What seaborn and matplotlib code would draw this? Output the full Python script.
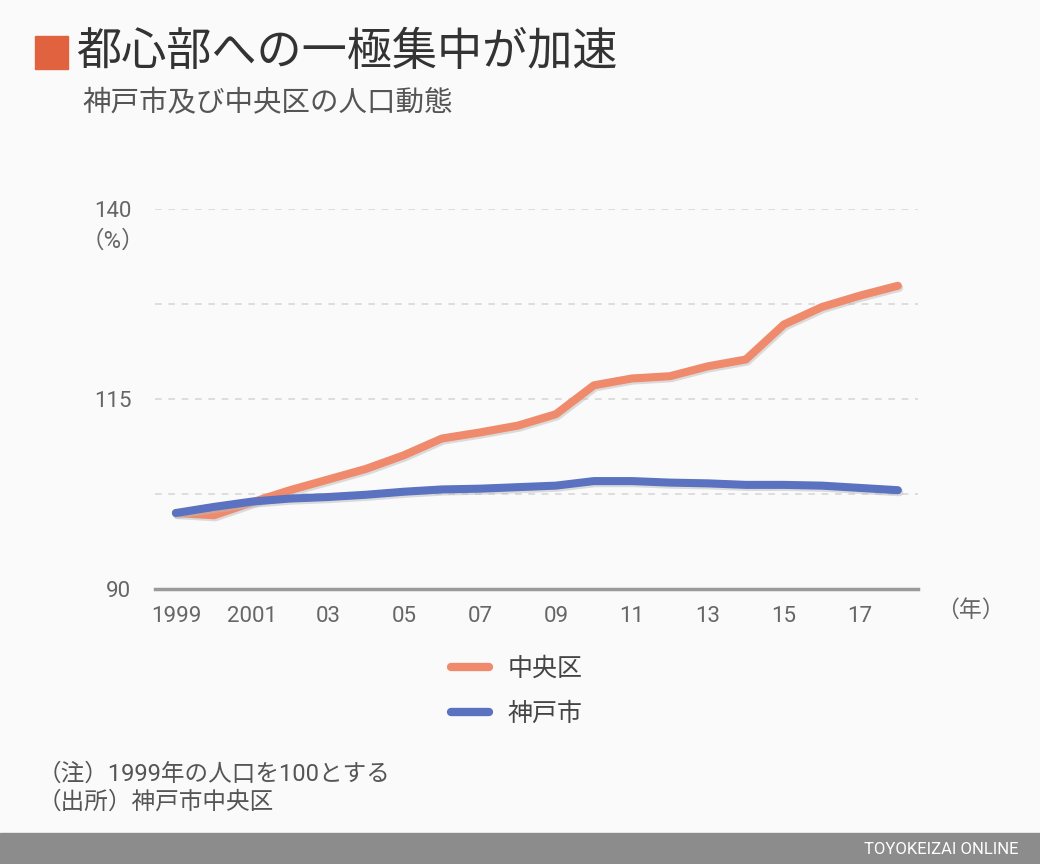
import pandas as pd
import numpy as np
import matplotlib.pyplot as plt
import matplotlib.patheffects as pe
from matplotlib.patches import Rectangle
import seaborn as sns

years = list(range(1999, 2019))
chuo = [100.0, 99.7, 101.4, 103.0, 104.4, 105.8, 107.6, 109.8, 110.6, 111.5,
        113.0, 116.8, 117.7, 118.0, 119.3, 120.2, 124.8, 127.1, 128.6, 129.9]
kobe = [100.0, 100.8, 101.5, 101.9, 102.1, 102.4, 102.8, 103.1, 103.2, 103.4,
        103.6, 104.2, 104.2, 104.0, 103.9, 103.7, 103.7, 103.6, 103.3, 103.0]
series_names = ["中央区", "神戸市"]
tick_years = list(range(1999, 2019, 2))
tick_labels = ["1999", "2001", "03", "05", "07", "09", "11", "13", "15", "17"]

df = pd.DataFrame({
    "year": years * 2,
    "value": chuo + kobe,
    "area": [series_names[0]] * len(years) + [series_names[1]] * len(years),
})

sns.set_style("white")
plt.rcParams['font.family'] = ['Roboto', 'Noto Sans CJK JP', 'DejaVu Sans']

bg = "#fafafa"
fig = plt.figure(figsize=(10.4, 8.64), dpi=100, facecolor=bg)
ax = fig.add_axes([155 / 1040, 1 - 589 / 864, (918 - 155) / 1040, (589 - 209) / 864])
ax.set_facecolor(bg)

palette = {"中央区": "#ef8a6c", "神戸市": "#5a72bf"}
sns.lineplot(data=df, x="year", y="value", hue="area", palette=palette,
             linewidth=5.8, ax=ax, legend=False, zorder=3)
for line in ax.lines:
    line.set_solid_capstyle("round")
    line.set_solid_joinstyle("round")
    line.set_path_effects([pe.SimpleLineShadow(offset=(1, -1.5), shadow_color="#bbbbbb", alpha=0.5),
                           pe.Normal()])

ax.set_xlim(1998.45, 2018.53)
ax.set_ylim(90, 140)
ax.set_yticks([90, 102.5, 115, 127.5, 140])
ax.set_yticklabels(["90", "", "115", "", "140"])
ax.set_xticks(tick_years)
ax.set_xticklabels(tick_labels)
ax.yaxis.grid(True, linestyle=(0, (4, 4)), color="#d8d8d8", linewidth=1.2)
ax.set_axisbelow(True)
for s in ["top", "right", "left"]:
    ax.spines[s].set_visible(False)
ax.spines["bottom"].set_color("#9a9a9a")
ax.spines["bottom"].set_linewidth(2.5)
ax.tick_params(axis="y", length=0, pad=17, labelsize=16, labelcolor="#666666")
ax.tick_params(axis="x", direction="out", length=9, width=1.3, color="#aaaaaa",
               pad=3, labelsize=16, labelcolor="#666666")
ax.set_xlabel("")
ax.set_ylabel("")

# legend
handles = [plt.Line2D([0], [0], color=palette[n], linewidth=6, solid_capstyle="round")
           for n in series_names]
leg = fig.legend(handles, series_names, loc="center", bbox_to_anchor=(517 / 1040, 1 - 691 / 864),
                 frameon=False, fontsize=18, handlelength=1.5, labelspacing=0.85,
                 handletextpad=0.75, labelcolor="#444444")

# titles and notes
fig.patches.append(Rectangle((35 / 1040, 1 - 69 / 864), 33 / 1040, 33 / 864,
                             transform=fig.transFigure, color="#e0623f", zorder=5))
fig.text(76 / 1040, 1 - 53 / 864, "都心部への一極集中が加速", fontsize=32.5,
         color="#333333", va="center", ha="left")
fig.text(82 / 1040, 1 - 104 / 864, "神戸市及び中央区の人口動態", fontsize=20.5,
         color="#555555", va="center", ha="left")
fig.text(113 / 1040, 1 - 241 / 864, "（%）", fontsize=17, color="#666666",
         va="center", ha="center")
fig.text(970 / 1040, 1 - 610 / 864, "（年）", fontsize=16.5, color="#666666",
         va="center", ha="center")
fig.text(38 / 1040, 1 - 774 / 864, "（注）1999年の人口を100とする", fontsize=17,
         color="#555555", va="center", ha="left")
fig.text(38 / 1040, 1 - 802 / 864, "（出所）神戸市中央区", fontsize=17,
         color="#555555", va="center", ha="left")

# footer bar
fig.patches.append(Rectangle((0, 0), 1, 31 / 864, transform=fig.transFigure,
                             color="#8c8c8c", zorder=5))
fig.text(1018 / 1040, 15 / 864, "TOYOKEIZAI ONLINE", fontsize=12, color="white",
         ha="right", va="center", zorder=6)

fig.savefig("out.png", dpi=100, facecolor=bg)
